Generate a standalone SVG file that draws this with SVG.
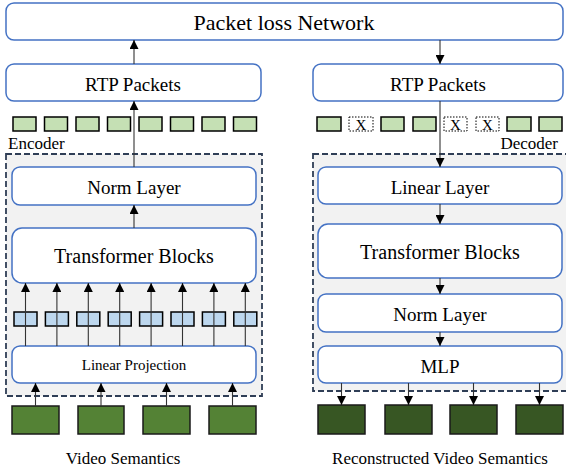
<svg xmlns="http://www.w3.org/2000/svg" width="566" height="472" viewBox="0 0 566 472">
<defs>
<marker id="ah" viewBox="0 0 10 10" refX="10" refY="5" markerWidth="9" markerHeight="9" markerUnits="userSpaceOnUse" orient="auto"><path d="M0,0 L10,5 L0,10 z" fill="#000"/></marker>
<style>
.box{fill:#fff;stroke:#4472C4;stroke-width:1.5}
.dash{fill:#F2F2F2;stroke:#2F3E56;stroke-width:1.8;stroke-dasharray:6 3}
.tok{fill:#C5E0B4;stroke:#000;stroke-width:1.5}
.emb{fill:#BDD7EE;stroke:#000;stroke-width:1.5}
.lost{fill:#fff;stroke:#000;stroke-width:1;stroke-dasharray:1.5 1.5}
.vs{fill:#548235;stroke:#1a1a1a;stroke-width:1.5}
.rv{fill:#375623;stroke:#1a1a1a;stroke-width:1.5}
.ln{stroke:#333;stroke-width:1.1;fill:none;marker-end:url(#ah)}
</style>
</defs>
<rect x="0" y="0" width="566" height="472" fill="#fff"/>

<g id="network"><rect class="box" x="6" y="3" width="557" height="37" rx="8"/><text x="284" y="30" font-size="22" font-family="Times New Roman" text-anchor="middle">Packet loss Network</text></g>

<g id="enc-rtp"><rect class="box" x="6" y="64" width="255" height="37" rx="8"/><text x="133" y="91" font-size="19" font-family="Times New Roman" text-anchor="middle">RTP Packets</text></g>
<g id="dec-rtp"><rect class="box" x="313" y="64" width="250" height="37" rx="8"/><text x="438" y="91" font-size="19" font-family="Times New Roman" text-anchor="middle">RTP Packets</text></g>

<g id="enc-tokens">
<rect class="tok" x="13" y="117" width="23" height="14"/><rect class="tok" x="44.5" y="117" width="23" height="14"/><rect class="tok" x="76" y="117" width="23" height="14"/><rect class="tok" x="107.5" y="117" width="23" height="14"/><rect class="tok" x="139" y="117" width="23" height="14"/><rect class="tok" x="170.5" y="117" width="23" height="14"/><rect class="tok" x="202" y="117" width="23" height="14"/><rect class="tok" x="233.5" y="117" width="23" height="14"/>
</g>
<g id="dec-tokens">
<rect class="tok" x="317" y="117" width="24" height="14"/>
<rect class="lost" x="349" y="117" width="24" height="14"/><text x="361" y="129.5" font-size="15" font-family="Times New Roman" text-anchor="middle">X</text>
<rect class="tok" x="381" y="117" width="23" height="14"/>
<rect class="tok" x="413" y="117" width="23" height="14"/>
<rect class="lost" x="444" y="117" width="23" height="14"/><text x="455.5" y="129.5" font-size="15" font-family="Times New Roman" text-anchor="middle">X</text>
<rect class="lost" x="476" y="117" width="23" height="14"/><text x="487.5" y="129.5" font-size="15" font-family="Times New Roman" text-anchor="middle">X</text>
<rect class="tok" x="507" y="117" width="24" height="14"/>
<rect class="tok" x="539" y="117" width="23" height="14"/>
</g>

<text x="8" y="149" font-size="17" font-family="Times New Roman">Encoder</text>
<text x="558" y="149" font-size="17" font-family="Times New Roman" text-anchor="end">Decoder</text>

<g id="encoder"><rect class="dash" x="6" y="154" width="256" height="242"/></g>
<g id="decoder"><rect class="dash" x="313" y="154" width="256" height="237"/></g>

<g id="enc-norm"><rect class="box" x="12" y="167" width="244" height="38" rx="8"/><text x="134" y="194" font-size="19" font-family="Times New Roman" text-anchor="middle">Norm Layer</text></g>
<g id="enc-transformer"><rect class="box" x="12" y="228" width="244" height="55" rx="10"/><text x="134" y="263" font-size="20" font-family="Times New Roman" text-anchor="middle">Transformer Blocks</text></g>
<g id="enc-embeddings">
<rect class="emb" x="14" y="312" width="23" height="14"/><rect class="emb" x="45.4" y="312" width="23" height="14"/><rect class="emb" x="76.8" y="312" width="23" height="14"/><rect class="emb" x="108.2" y="312" width="23" height="14"/><rect class="emb" x="139.6" y="312" width="23" height="14"/><rect class="emb" x="171" y="312" width="23" height="14"/><rect class="emb" x="202.4" y="312" width="23" height="14"/><rect class="emb" x="233.8" y="312" width="23" height="14"/>
</g>
<g id="enc-linproj"><rect class="box" x="12" y="346" width="244" height="37" rx="8"/><text x="134" y="370" font-size="15" font-family="Times New Roman" text-anchor="middle">Linear Projection</text></g>

<g id="dec-linear"><rect class="box" x="318" y="167" width="244" height="37" rx="8"/><text x="440" y="194" font-size="19" font-family="Times New Roman" text-anchor="middle">Linear Layer</text></g>
<g id="dec-transformer"><rect class="box" x="318" y="224" width="244" height="54" rx="10"/><text x="440" y="259" font-size="20" font-family="Times New Roman" text-anchor="middle">Transformer Blocks</text></g>
<g id="dec-norm"><rect class="box" x="318" y="294" width="244" height="38" rx="8"/><text x="440" y="321" font-size="19" font-family="Times New Roman" text-anchor="middle">Norm Layer</text></g>
<g id="dec-mlp"><rect class="box" x="318" y="346" width="244" height="37" rx="8"/><text x="440" y="373" font-size="19" font-family="Times New Roman" text-anchor="middle">MLP</text></g>

<g id="video-semantics">
<rect class="vs" x="12" y="406" width="47" height="28"/><rect class="vs" x="78" y="406" width="46" height="28"/><rect class="vs" x="143" y="406" width="47" height="28"/><rect class="vs" x="209" y="406" width="47" height="28"/>
<text x="123" y="464" font-size="17" font-family="Times New Roman" text-anchor="middle">Video Semantics</text>
</g>
<g id="reconstructed">
<rect class="rv" x="318" y="405" width="47" height="29"/><rect class="rv" x="385" y="405" width="47" height="29"/><rect class="rv" x="450" y="405" width="47" height="29"/><rect class="rv" x="516" y="405" width="47" height="29"/>
<text x="440" y="464" font-size="17" font-family="Times New Roman" text-anchor="middle">Reconstructed Video Semantics</text>
</g>

<g id="connectors">
<line class="ln" x1="134" y1="64" x2="134" y2="40"/>
<line class="ln" x1="440" y1="40" x2="440" y2="64"/>
<line class="ln" x1="134" y1="167" x2="134" y2="101"/>
<line class="ln" x1="440" y1="101" x2="440" y2="167"/>
<line class="ln" x1="134" y1="228" x2="134" y2="205"/>
<line class="ln" x1="25.5" y1="346" x2="25.5" y2="283"/>
<line class="ln" x1="56.9" y1="346" x2="56.9" y2="283"/>
<line class="ln" x1="88.3" y1="346" x2="88.3" y2="283"/>
<line class="ln" x1="119.7" y1="346" x2="119.7" y2="283"/>
<line class="ln" x1="151.1" y1="346" x2="151.1" y2="283"/>
<line class="ln" x1="182.5" y1="346" x2="182.5" y2="283"/>
<line class="ln" x1="213.9" y1="346" x2="213.9" y2="283"/>
<line class="ln" x1="245.3" y1="346" x2="245.3" y2="283"/>
<line class="ln" x1="35.5" y1="406" x2="35.5" y2="383"/>
<line class="ln" x1="101" y1="406" x2="101" y2="383"/>
<line class="ln" x1="166.5" y1="406" x2="166.5" y2="383"/>
<line class="ln" x1="232.5" y1="406" x2="232.5" y2="383"/>
<line class="ln" x1="440" y1="204" x2="440" y2="224"/>
<line class="ln" x1="440" y1="278" x2="440" y2="294"/>
<line class="ln" x1="440" y1="332" x2="440" y2="346"/>
<line class="ln" x1="341.5" y1="383" x2="341.5" y2="405"/>
<line class="ln" x1="408.5" y1="383" x2="408.5" y2="405"/>
<line class="ln" x1="473.5" y1="383" x2="473.5" y2="405"/>
<line class="ln" x1="539.5" y1="383" x2="539.5" y2="405"/>
</g>
</svg>
